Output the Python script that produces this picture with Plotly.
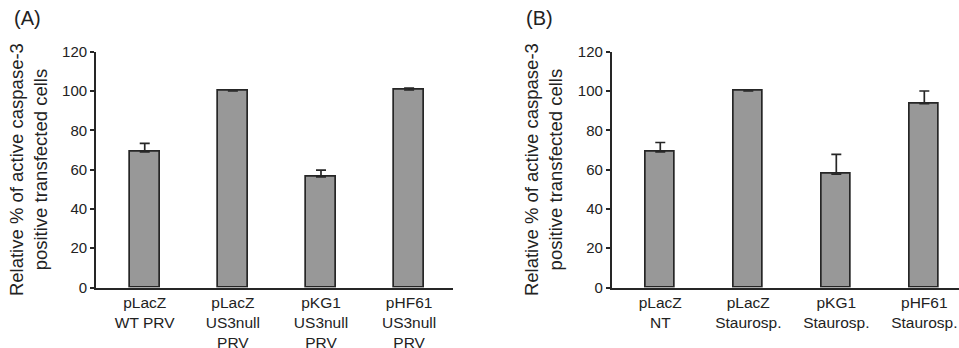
import plotly.graph_objects as go

labels_a = ["pLacZ<br>WT PRV", "pLacZ<br>US3null<br>PRV", "pKG1<br>US3null<br>PRV", "pHF61<br>US3null<br>PRV"]
values_a = [69.0, 100.0, 56.3, 100.5]
errors_a = [4.3, 0.0, 3.4, 1.0]

labels_b = ["pLacZ<br>NT", "pLacZ<br>Staurosp.", "pKG1<br>Staurosp.", "pHF61<br>Staurosp."]
values_b = [69.0, 100.0, 57.7, 93.6]
errors_b = [4.8, 0.0, 10.0, 6.4]

y_ticks = [0, 20, 40, 60, 80, 100, 120]
y_title = "Relative % of active caspase-3<br>positive transfected cells"
FONT = "Liberation Sans, Arial, sans-serif"
INK = "#262626"

W, H = 959, 348


def px_x(p):
    return p / W


def px_y(p):
    return 1 - p / H


fig = go.Figure()
for vals, errs, xa, ya in [(values_a, errors_a, "x", "y"), (values_b, errors_b, "x2", "y2")]:
    fig.add_trace(go.Bar(
        x=list(range(len(vals))), y=vals, xaxis=xa, yaxis=ya, width=0.335,
        marker=dict(color="#989898", line=dict(color=INK, width=1.7)),
        error_y=dict(type="data", array=errs, arrayminus=[0] * len(errs), symmetric=False,
                     color=INK, thickness=1.7, width=5),
        showlegend=False,
    ))

ydom = [px_y(287.5), px_y(51.7)]
common_x = dict(showline=True, linecolor=INK, linewidth=1.7, ticks="", showgrid=False,
                zeroline=False, automargin=False,
                tickfont=dict(family=FONT, size=15.5, color="#222"))
common_y = dict(range=[0, 120], tickvals=y_ticks, showline=True, linecolor=INK, linewidth=1.7,
                ticks="outside", ticklen=4, tickwidth=1.7, tickcolor=INK, showgrid=False,
                zeroline=False, automargin=False, tickfont=dict(family=FONT, size=15, color="#222"),
                title=dict(text=y_title, font=dict(family=FONT, size=18.5, color="#222"), standoff=10),
                domain=ydom)

fig.update_layout(
    width=W, height=H, margin=dict(l=0, r=0, t=0, b=0, autoexpand=False),
    plot_bgcolor="white", paper_bgcolor="white", bargap=0,
    xaxis=dict(domain=[px_x(96), px_x(453)], range=[-0.553, 3.498],
               tickvals=list(range(4)), ticktext=labels_a, anchor="y", **common_x),
    yaxis=dict(anchor="x", **common_y),
    xaxis2=dict(domain=[px_x(611.7), 1.0], range=[-0.552, 3.394],
                tickvals=list(range(4)), ticktext=labels_b, anchor="y2", **common_x),
    yaxis2=dict(anchor="x2", **common_y),
    annotations=[
        dict(text="(A)", x=px_x(12), y=px_y(18), xref="paper", yref="paper", showarrow=False,
             font=dict(family=FONT, size=20, color="#222"), xanchor="left", yanchor="middle"),
        dict(text="(B)", x=px_x(524), y=px_y(18), xref="paper", yref="paper", showarrow=False,
             font=dict(family=FONT, size=20, color="#222"), xanchor="left", yanchor="middle"),
    ],
)

fig.write_html("out.html", config={"displayModeBar": False},
               post_script="document.body.style.margin='0px';document.body.style.overflow='hidden';")
